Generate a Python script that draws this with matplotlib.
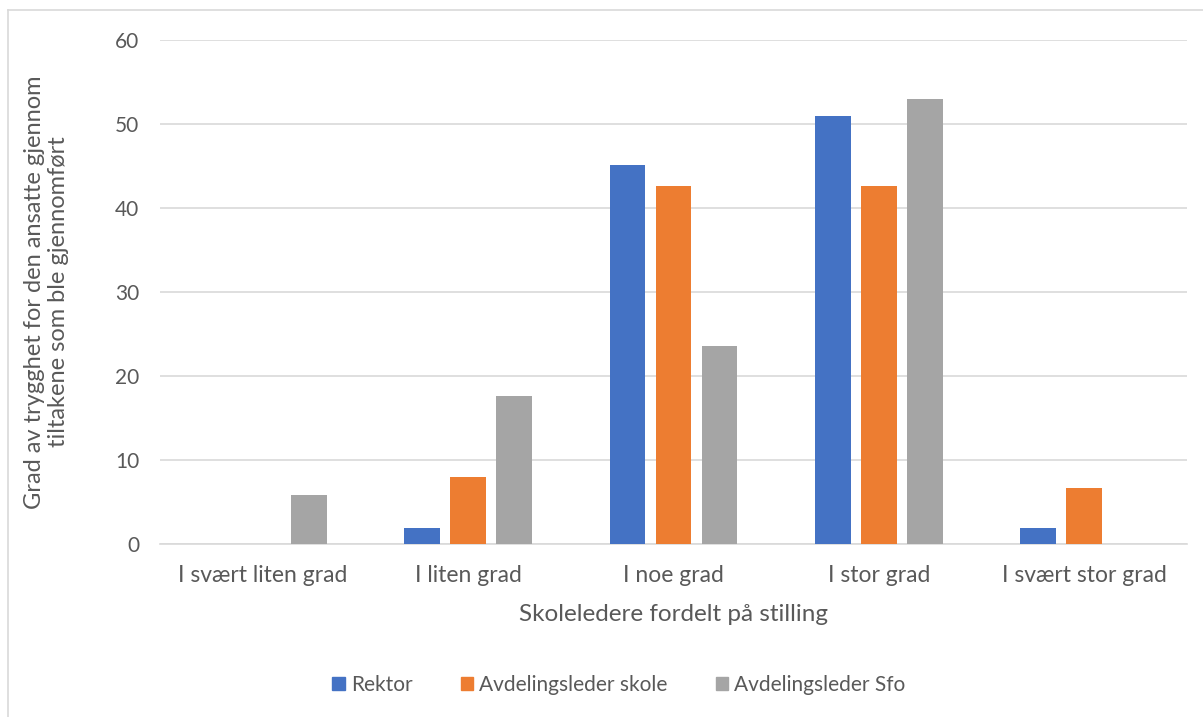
import matplotlib.pyplot as plt
import numpy as np
from matplotlib.lines import Line2D

categories = ["I svært liten grad", "I liten grad", "I noe grad", "I stor grad", "I svært stor grad"]
rektor = [0, 1.96, 45.1, 51.0, 1.96]
avd_skole = [0, 8.0, 42.67, 42.67, 6.67]
avd_sfo = [5.88, 17.65, 23.53, 52.94, 0]
series_names = ["Rektor", "Avdelingsleder skole", "Avdelingsleder Sfo"]
colors = ["#4472C4", "#ED7D31", "#A5A5A5"]

plt.rcParams["font.family"] = ["Lato", "DejaVu Sans"]
text_color = "#595959"

fig = plt.figure(figsize=(12.03, 7.17), dpi=100)
ax = fig.add_axes([160 / 1203, 1 - 544 / 717, 1027 / 1203, 504 / 717])

x = np.arange(len(categories))
width = 0.175
step = 0.224
for i, (vals, name, col) in enumerate(zip([rektor, avd_skole, avd_sfo], series_names, colors)):
    ax.bar(x + (i - 1) * step, vals, width, color=col, label=name, zorder=3)

ax.set_xlim(-0.5, len(categories) - 0.5)
ax.set_ylim(0, 60)
ax.set_yticks(range(0, 61, 10))
ax.set_xticks(x)
ax.set_xticklabels(categories)
ax.tick_params(axis="both", length=0, colors=text_color)
ax.tick_params(axis="y", pad=15, labelsize=15)
ax.tick_params(axis="x", pad=15, labelsize=16.5)
ax.grid(axis="y", color="#D9D9D9", linewidth=1.2, zorder=0)
for side in ["top", "right", "left"]:
    ax.spines[side].set_visible(False)
ax.spines["bottom"].set_color("#D9D9D9")
ax.spines["bottom"].set_linewidth(1.2)

ax.set_xlabel("Skoleledere fordelt på stilling", fontsize=17.5, color=text_color, labelpad=13)
ax.set_ylabel("Grad av trygghet for den ansatte gjennom\ntiltakene som ble gjennomført",
              fontsize=17, color=text_color, labelpad=33)

handles = [plt.Rectangle((0, 0), 1, 1, color=c) for c in colors]
fig.legend(handles, series_names, loc="center", bbox_to_anchor=(619 / 1203, 1 - 685 / 717),
           ncol=3, frameon=False, fontsize=15, labelcolor=text_color,
           handlelength=0.6, handleheight=0.6, handletextpad=0.3, columnspacing=2.3)

# chart area frame
fig.add_artist(Line2D([8 / 1203, 8 / 1203], [0, 1 - 10 / 717], color="#D9D9D9", lw=1.2, transform=fig.transFigure))
fig.add_artist(Line2D([8 / 1203, 1], [1 - 10 / 717, 1 - 10 / 717], color="#D9D9D9", lw=1.2, transform=fig.transFigure))

fig.savefig("out.png", dpi=100)
